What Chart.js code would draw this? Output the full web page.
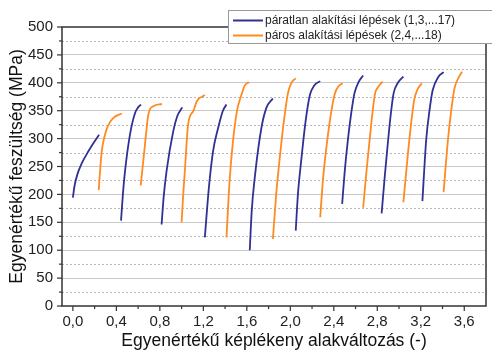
<!DOCTYPE html>
<html>
<head>
<meta charset="utf-8">
<script src="https://cdn.jsdelivr.net/npm/chart.js@4.4.0/dist/chart.umd.min.js"></script>
<style>
  html, body { margin: 0; background: #fff; }
  canvas { display: block; }
</style>
</head>
<body>
<canvas id="flow" width="492" height="350"></canvas>
<script>
// Flow curves per forming step: [equivalent plastic strain, equivalent stress MPa]
const oddSteps = [
  [[0.000,194],[0.015,215],[0.040,235],[0.080,255],[0.130,273],[0.190,292],[0.241,307]],
  [[0.443,153],[0.460,200],[0.480,242],[0.526,308],[0.572,346],[0.600,356],[0.627,361]],
  [[0.816,146],[0.835,195],[0.862,242],[0.923,313],[0.960,340],[1.006,356]],
  [[1.214,123],[1.250,210],[1.290,278],[1.336,319],[1.380,350],[1.413,361]],
  [[1.627,100],[1.645,170],[1.673,230],[1.734,319],[1.780,355],[1.840,372]],
  [[2.050,135],[2.070,200],[2.100,260],[2.140,330],[2.180,378],[2.220,395],[2.275,403]],
  [[2.477,183],[2.500,240],[2.530,298],[2.560,345],[2.590,381],[2.630,402],[2.670,413]],
  [[2.840,166],[2.870,235],[2.900,298],[2.925,345],[2.950,381],[2.990,400],[3.040,411]],
  [[3.215,188],[3.250,298],[3.280,350],[3.310,387],[3.360,410],[3.410,419]]
];
const evenSteps = [
  [[0.238,208],[0.250,242],[0.266,278],[0.290,303],[0.320,322],[0.373,337],[0.450,345]],
  [[0.624,216],[0.645,255],[0.663,289],[0.694,343],[0.740,358],[0.820,362]],
  [[1.000,150],[1.015,200],[1.030,242],[1.060,325],[1.110,350],[1.140,367],[1.214,378]],
  [[1.413,123],[1.440,220],[1.470,290],[1.510,350],[1.550,378],[1.580,395],[1.620,401]],
  [[1.840,120],[1.870,200],[1.900,260],[1.940,330],[1.978,381],[2.010,400],[2.050,408]],
  [[2.275,159],[2.300,225],[2.330,281],[2.370,340],[2.410,381],[2.440,393],[2.480,399]],
  [[2.670,176],[2.700,240],[2.730,298],[2.755,345],[2.780,381],[2.810,393],[2.850,402]],
  [[3.040,186],[3.080,269],[3.110,325],[3.140,370],[3.170,388],[3.210,399]],
  [[3.410,204],[3.450,298],[3.480,350],[3.510,390],[3.550,410],[3.580,420]]
];
const seriesLabels = ['páratlan alakítási lépések (1,3,...17)', 'páros alakítási lépések (2,4,...18)'];
const xTicks = [0,0.2,0.4,0.6,0.8,1.0,1.2,1.4,1.6,1.8,2.0,2.2,2.4,2.6,2.8,3.0,3.2,3.4,3.6];
const yTicks = [0,25,50,75,100,125,150,175,200,225,250,275,300,325,350,375,400,425,450,475,500];

const BLUE = '#2f3194', ORANGE = '#ff8a1f';
const FONT = '"Liberation Sans", Arial, sans-serif';

function toSet(pts, color){
  return {
    data: pts.map(p => ({x: p[0], y: p[1]})),
    borderColor: color, borderWidth: 1.8, pointRadius: 0,
    cubicInterpolationMode: 'monotone', fill: false
  }
}
const datasets = oddSteps.map(s => toSet(s, BLUE)).concat(evenSteps.map(s => toSet(s, ORANGE)));

const isMajorX = v => Math.abs(v/0.4 - Math.round(v/0.4)) < 1e-6;
const isMajorY = v => v % 50 === 0;

// frame, outward ticks, dotted half-grid and the boxed legend
const decor = {
  id: 'decor',
  beforeDatasetsDraw(chart){
    const {ctx, chartArea: a, scales: {y}} = chart;
    ctx.save();
    ctx.strokeStyle = '#b8b8b8'; ctx.lineWidth = 1; ctx.setLineDash([2,2]);
    yTicks.filter(v => !isMajorY(v)).forEach(v => {
      const py = Math.round(y.getPixelForValue(v)) + 0.5;
      ctx.beginPath(); ctx.moveTo(a.left, py); ctx.lineTo(a.right, py); ctx.stroke();
    });
    ctx.restore();
  },
  afterDraw(chart){
    const {ctx, chartArea: a, scales: {x, y}} = chart;
    ctx.save();
    ctx.strokeStyle = '#333'; ctx.lineWidth = 1.5;
    ctx.beginPath();
    ctx.moveTo(a.left, a.top); ctx.lineTo(a.right, a.top); ctx.lineTo(a.right, a.bottom);
    ctx.lineTo(a.left, a.bottom); ctx.closePath(); ctx.stroke();
    ctx.lineWidth = 1.2;
    xTicks.forEach(v => {
      const px = x.getPixelForValue(v), len = isMajorX(v) ? 5 : 3;
      ctx.beginPath(); ctx.moveTo(px, a.bottom); ctx.lineTo(px, a.bottom + len); ctx.stroke();
    });
    yTicks.forEach(v => {
      const py = y.getPixelForValue(v), len = isMajorY(v) ? 5 : 3;
      ctx.beginPath(); ctx.moveTo(a.left, py); ctx.lineTo(a.left - len, py); ctx.stroke();
    });
    // legend
    ctx.fillStyle = '#fff'; ctx.fillRect(228.5, 10.5, 280, 33);
    ctx.strokeStyle = '#999'; ctx.lineWidth = 1; ctx.strokeRect(228.5, 10.5, 280, 33);
    [BLUE, ORANGE].forEach((c, i) => {
      const ly = 20.5 + i * 15;
      ctx.strokeStyle = c; ctx.lineWidth = 2;
      ctx.beginPath(); ctx.moveTo(233, ly); ctx.lineTo(263, ly); ctx.stroke();
      ctx.fillStyle = '#222'; ctx.font = '12px ' + FONT; ctx.textBaseline = 'middle';
      ctx.fillText(seriesLabels[i], 265, ly + 0.5);
    });
    ctx.restore();
  }
};

new Chart(document.getElementById('flow'), {
  type: 'line',
  data: { datasets },
  plugins: [decor],
  options: {
    responsive: false, animation: false,
    layout: { padding: { top: 27, right: 6, left: 0, bottom: 0 } },
    plugins: { legend: { display: false }, tooltip: { enabled: false } },
    scales: {
      x: {
        type: 'linear', min: -0.1, max: 3.8,
        afterBuildTicks: s => { s.ticks = xTicks.map(v => ({value: v})) },
        afterFit: s => { s.height = 44 },
        grid: { display: false, drawTicks: false },
        border: { display: false },
        ticks: {
          autoSkip: false, maxRotation: 0, padding: 7, color: '#222',
          font: { family: FONT, size: 15 },
          callback: v => isMajorX(v) ? v.toFixed(1).replace('.', ',') : ''
        },
        title: {
          display: true, text: 'Egyenértékű képlékeny alakváltozás (-)', color: '#111',
          font: { family: FONT, size: 17.5, lineHeight: 1 }, padding: { top: 0, bottom: 0 }
        }
      },
      y: {
        min: 0, max: 500,
        afterBuildTicks: s => { s.ticks = yTicks.map(v => ({value: v})) },
        afterFit: s => { s.width = 62 },
        grid: {
          drawTicks: false,
          color: c => (c.tick && isMajorY(c.tick.value) && c.tick.value > 0 && c.tick.value < 500) ? '#c8c8c8' : 'rgba(0,0,0,0)'
        },
        border: { display: false },
        ticks: {
          autoSkip: false, padding: 9, color: '#222',
          font: { family: FONT, size: 15 },
          callback: v => isMajorY(v) ? String(v) : ''
        },
        title: {
          display: true, text: 'Egyenértékű feszültség (MPa)', color: '#111',
          font: { family: FONT, size: 17.5 }, padding: { top: 7, bottom: 0 }
        }
      }
    }
  }
});
</script>
</body>
</html>
